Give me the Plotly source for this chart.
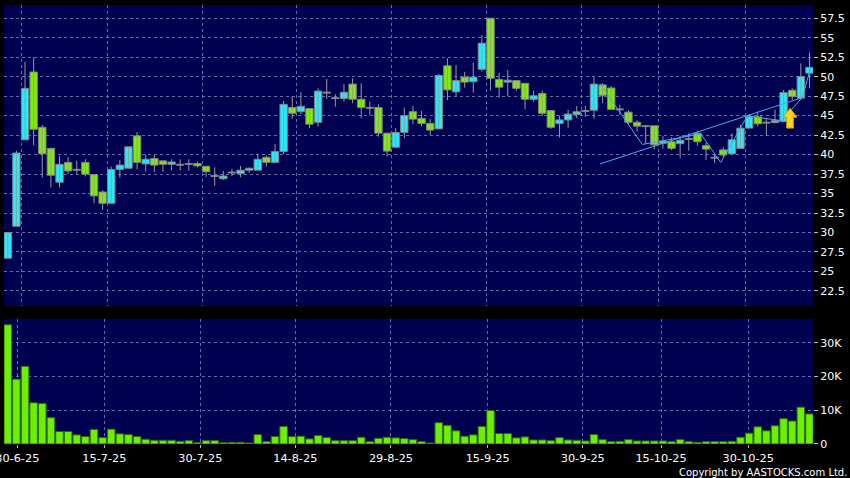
import numpy as np
import plotly.graph_objects as go
from plotly.subplots import make_subplots

# daily candles, 27-6-25 .. 10-11-25 (trading days)
opens = [26.7, 30.8, 41.9, 50.6, 43.5, 40.8, 36.45, 39.0, 38.05, 39.0,
         37.45, 35.2, 33.75, 38.1, 38.25, 42.4, 38.8, 39.5, 39.2, 38.75,
         38.7, 38.8, 38.85, 38.5, 37.25, 36.9, 37.7, 37.55, 38.0, 38.0,
         39.65, 39.0, 40.4, 46.05, 45.5, 45.9, 44.15, 47.95, 47.25, 47.2,
         49.05, 47.1, 46.0, 46.05, 42.75, 40.95, 42.85, 45.5, 44.65, 44.0,
         43.3, 51.4, 48.05, 49.95, 49.35, 50.95, 57.5, 49.65, 49.3, 49.5,
         49.15, 47.1, 47.85, 45.65, 44.0, 44.45, 45.15, 45.6, 45.7, 48.95,
         48.55, 45.8, 45.45, 44.15, 43.65, 43.7, 41.45, 41.65, 41.4, 42.0,
         42.75, 41.15, 39.6, 40.6, 40.1, 40.8, 43.4, 44.85, 44.1, 44.1,
         44.25, 48.25, 47.25, 50.45]
highs = [30.0, 40.5, 51.9, 52.5, 43.8, 40.8, 39.8, 39.7, 39.2, 39.4,
         37.45, 35.4, 38.45, 39.3, 41.0, 42.9, 40.0, 40.0, 39.2, 39.4,
         39.4, 39.4, 39.1, 38.5, 38.35, 37.9, 38.15, 38.55, 38.35, 40.1,
         39.9, 41.35, 46.9, 47.45, 48.0, 45.9, 48.5, 49.7, 47.75, 49.05,
         49.8, 49.15, 46.8, 46.45, 42.75, 43.4, 46.05, 46.25, 45.6, 44.55,
         50.35, 52.35, 51.5, 50.6, 51.8, 55.35, 57.5, 50.5, 50.85, 49.5,
         49.15, 48.2, 48.2, 45.65, 45.0, 45.75, 46.25, 46.25, 50.0, 49.15,
         48.8, 46.4, 45.7, 44.4, 43.75, 43.7, 42.4, 42.2, 42.4, 42.75,
         43.05, 41.5, 40.2, 40.9, 42.75, 43.8, 45.2, 45.5, 44.65, 45.75,
         48.3, 48.5, 51.7, 53.1]
lows = [26.7, 30.8, 41.9, 41.2, 37.05, 35.8, 35.8, 37.5, 37.5, 37.2,
        33.75, 32.9, 33.75, 37.05, 38.25, 38.1, 37.8, 37.8, 37.8, 37.95,
        37.95, 37.95, 38.35, 37.15, 36.0, 36.75, 37.25, 37.1, 37.65, 38.0,
        38.45, 39.0, 40.05, 44.55, 45.2, 43.4, 43.6, 47.15, 46.15, 46.8,
        46.6, 44.65, 45.1, 42.3, 39.75, 40.9, 42.1, 43.9, 43.65, 42.5,
        43.3, 47.0, 47.5, 48.6, 47.95, 50.65, 48.2, 47.35, 47.5, 48.2,
        45.8, 46.8, 44.95, 43.3, 42.2, 43.45, 44.65, 44.85, 44.6, 46.6,
        45.8, 45.15, 43.8, 42.95, 41.35, 40.7, 40.8, 40.6, 39.55, 40.5,
        41.15, 39.3, 38.9, 39.6, 40.1, 40.8, 43.4, 43.6, 42.4, 44.1,
        44.2, 47.0, 47.1, 48.5]
closes = [30.0, 40.2, 48.5, 43.25, 40.1, 37.35, 38.75, 37.9, 38.05, 37.5,
          34.7, 33.75, 38.1, 38.65, 41.0, 39.0, 39.4, 38.65, 38.75, 39.05,
          38.7, 38.8, 38.55, 37.8, 37.25, 37.25, 37.7, 38.0, 38.25, 39.4,
          39.0, 40.4, 46.45, 45.3, 46.2, 43.9, 48.15, 47.95, 47.25, 48.0,
          47.1, 46.05, 46.0, 42.75, 40.45, 42.85, 45.0, 44.55, 44.0, 43.15,
          50.15, 48.3, 49.5, 49.3, 49.95, 54.3, 49.8, 48.65, 49.55, 48.5,
          47.1, 47.55, 45.3, 43.5, 44.45, 45.2, 45.5, 45.6, 49.05, 47.6,
          45.8, 45.8, 44.15, 43.65, 43.65, 41.25, 41.75, 40.8, 41.85, 42.0,
          41.65, 40.7, 39.6, 39.95, 41.9, 43.4, 44.85, 43.95, 44.1, 44.35,
          47.95, 47.45, 50.0, 51.2]
volumes = [35300, 19200, 23000, 12200, 12000, 7800, 3700, 3700, 2700, 2200,
           4300, 1900, 4400, 3000, 2800, 2200, 1400, 1100, 1100, 1100,
           800, 1000, 400, 1000, 1000, 400, 500, 500, 300, 2800,
           700, 2200, 5200, 2200, 2300, 1500, 2500, 1900, 1000, 1000,
           1000, 2000, 700, 1700, 2000, 1800, 1600, 1300, 700, 300,
           6300, 5500, 3900, 2300, 2700, 5200, 9900, 3100, 3100, 1800,
           2100, 1200, 1200, 1000, 1900, 1200, 1100, 900, 2800, 1300,
           700, 800, 1300, 900, 900, 900, 900, 700, 1300, 700,
           500, 700, 700, 700, 800, 2000, 3200, 5100, 3900, 5400,
           7500, 6800, 10900, 8900]

date_labels = ["30-6-25", "15-7-25", "30-7-25", "14-8-25", "29-8-25",
               "15-9-25", "30-9-25", "15-10-25", "30-10-25"]
label_pos = [1.1, 11.2, 22.33, 33.35, 44.45, 55.67, 66.7, 75.78, 85.9]   # tick labels
grid_pos = [1.61, 11.54, 22.57, 33.52, 44.53, 55.55, 66.57, 75.51, 85.56]  # grid lines
price_ticks = [22.5, 25, 27.5, 30, 32.5, 35, 37.5, 40, 42.5, 45, 47.5, 50, 52.5, 55, 57.5]
vol_ticks = [0, 10000, 20000, 30000]
vol_labels = ["0", "10K", "20K", "30K"]

# drawn lines on the chart
trend_x = [68.7, 92.4]
trend_y = [38.8, 47.4]
zigzag_x = [68.7, 73.6, 80.4, 82.7, 85.8, 89.8, 92.2, 93.1]
zigzag_y = [49.1, 41.3, 42.65, 39.0, 44.95, 44.35, 47.4, 51.0]
arrow_at = 90.75
arrow_tip = 45.95
arrow_foot = 43.4

o = np.array(opens)
c = np.array(closes)
idx = np.arange(len(opens))

UP = "#1EEEFF"
DOWN = "#7CF000"
FLAT = "#A8A8A8"
body_col = [UP if cc > oo else DOWN if cc < oo else FLAT for oo, cc in zip(o, c)]
body_base = np.where(c == o, o - 0.06, np.minimum(o, c))
body_len = np.maximum(np.abs(c - o), 0.12)

wx, wy = [], []
for i, (hh, ll) in enumerate(zip(highs, lows)):
    wx += [i, i, None]
    wy += [ll, hh, None]

fig = make_subplots(rows=2, cols=1, shared_xaxes=True)

fig.add_trace(go.Scatter(x=wx, y=wy, mode="lines", line=dict(color="#9a9a9a", width=1),
                         hoverinfo="skip", showlegend=False), row=1, col=1)
fig.add_trace(go.Bar(x=idx, y=body_len, base=body_base, width=0.86,
                     marker=dict(color=body_col, line=dict(color="#808080", width=1)),
                     showlegend=False), row=1, col=1)

fig.add_trace(go.Scatter(x=trend_x, y=trend_y, mode="lines",
                         line=dict(color="#4AA8E8", width=1), showlegend=False), row=1, col=1)
fig.add_trace(go.Scatter(x=zigzag_x, y=zigzag_y, mode="lines",
                         line=dict(color="#4AA8E8", width=1), showlegend=False), row=1, col=1)

# yellow up arrow
sw, hw = 0.39, 0.8
head = arrow_tip - 1.15
ax = [arrow_at - sw, arrow_at - sw, arrow_at - hw, arrow_at, arrow_at + hw, arrow_at + sw, arrow_at + sw, arrow_at - sw]
ay = [arrow_foot, head, head, arrow_tip, head, head, arrow_foot, arrow_foot]
fig.add_trace(go.Scatter(x=ax, y=ay, mode="lines", fill="toself", fillcolor="#FFD21F",
                         line=dict(color="#D69A00", width=1), showlegend=False), row=1, col=1)

fig.add_trace(go.Bar(x=idx, y=volumes, width=0.88,
                     marker=dict(color="#6CF000", line=dict(color="#2F6A00", width=1)),
                     showlegend=False), row=2, col=1)

grid = dict(showgrid=True, gridcolor="#6a6aa8", gridwidth=1, griddash="3px,3px",
            zeroline=False, automargin=False)
font = dict(family="DejaVu Sans", size=11, color="#FFFFFF")

fig.update_xaxes(range=[-0.44, 93.41], **grid)
fig.update_xaxes(tickvals=grid_pos, showticklabels=False, ticks="", row=1, col=1)
fig.update_xaxes(tickvals=label_pos, ticktext=date_labels, ticks="outside", ticklen=3,
                 tickcolor="#BBBBBB", tickfont=dict(family="DejaVu Sans", size=11.3, color="#FFFFFF"),
                 ticklabeloverflow="allow", row=2, col=1)

fig.update_yaxes(side="right", ticks="outside", ticklen=4, tickcolor="#BBBBBB", tickfont=font, **grid)
fig.update_yaxes(range=[20.57, 59.2], tickvals=price_ticks, domain=[0.3144, 1], row=1, col=1)
fig.update_yaxes(range=[0, 37000], tickvals=vol_ticks, ticktext=vol_labels,
                 domain=[0, 0.2847], row=2, col=1)

fig.add_annotation(text="Copyright by AASTOCKS.com Ltd.", xref="paper", yref="paper",
                   x=1.0445, y=-0.064, xanchor="right", yanchor="middle", showarrow=False,
                   font=dict(family="DejaVu Sans", size=10, color="#FFFFFF"))

fig.update_layout(
    width=850, height=478,
    margin=dict(l=4, r=37, t=5, b=34),
    paper_bgcolor="#000000",
    plot_bgcolor="#000050",
    barmode="overlay",
    showlegend=False,
    hovermode=False,
)

# page body has a default 8px margin; drop it so the chart fills the window
fig.write_html("out.html", config={"displayModeBar": False},
               post_script="document.body.style.margin='0';document.body.style.background='#000';")
